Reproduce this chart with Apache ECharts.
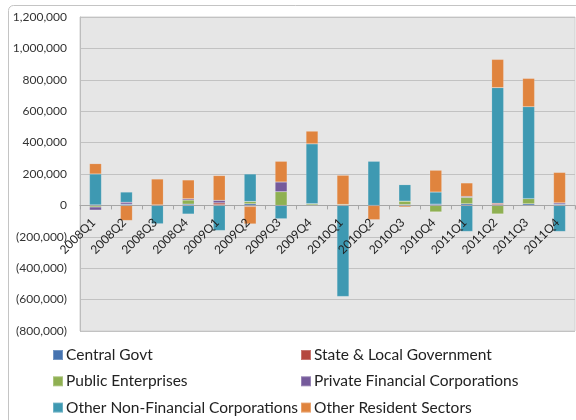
<!DOCTYPE html>
<html>
<head>
<meta charset="utf-8">
<script src="https://cdn.jsdelivr.net/npm/echarts@6/dist/echarts.min.js"></script>
<style>
  html, body { margin: 0; padding: 0; background: #ffffff; }
  #chart { width: 576px; height: 420px; }
</style>
</head>
<body>
<div id="chart"></div>
<script>
// Quarterly flows by institutional sector
const quarters = ['2008Q1','2008Q2','2008Q3','2008Q4','2009Q1','2009Q2','2009Q3','2009Q4',
                  '2010Q1','2010Q2','2010Q3','2010Q4','2011Q1','2011Q2','2011Q3','2011Q4'];

const centralGovt      = [3000, 8000, 0, 8000, 4000, 10000, 0, 0, 0, 0, 5000, 8000, 10000, 5000, 10000, 8000];
const stateLocalGovt   = [0, 0, 0, 0, 12000, -7000, 0, 3000, 0, 0, -3000, 0, 0, 8000, 0, 0];
const publicEnterprises = [-10000, 0, 3000, 26000, 0, 15000, 87000, 8000, 6000, 0, 22000, -42000, 41000, -55000, 33000, 0];
const privateFinancial = [-20000, 12000, 0, 8000, 16000, 0, 62000, 0, 0, 0, 0, 0, 6000, 0, -4000, 8000];
const otherNonFinancial = [197000, 65000, -117000, -55000, -160000, 175000, -85000, 381000, -580000, 281000, 105000, 77000, -166000, 737000, 585000, -166000];
const otherResident    = [66000, -96000, 165000, 120000, 158000, -111000, 132000, 81000, 186000, -91000, -8000, 139000, 86000, 180000, 181000, 194000];

const yTicks = { min: -800000, max: 1200000, step: 200000 };

const seriesNames = ['Central Govt', 'State & Local Government', 'Public Enterprises',
                     'Private Financial Corporations', 'Other Non-Financial Corporations', 'Other Resident Sectors'];
const seriesValues = [centralGovt, stateLocalGovt, publicEnterprises, privateFinancial, otherNonFinancial, otherResident];
const seriesColors = ['#4573b0', '#b5473f', '#8fb052', '#755a9b', '#3e99b2', '#e0843e'];

const fontFamily = 'Lato, "Open Sans", sans-serif';

// plot box
const gridTop = 17, gridBottom = 89, chartH = 420;
const plotH = chartH - gridTop - gridBottom;
// distance from the plot bottom up to the zero line, so the category axis sits on zero
const zeroOffset = plotH * (0 - yTicks.min) / (yTicks.max - yTicks.min);

function fmtAxis(v) {
  const s = Math.abs(v).toString().replace(/\B(?=(\d{3})+(?!\d))/g, ',');
  return v < 0 ? '(' + s + ')' : s;
}

const chart = echarts.init(document.getElementById('chart'), null, { renderer: 'canvas' });

const legendBase = {
  orient: 'vertical', top: 347, height: 100, padding: 0, itemGap: 10.3,
  itemWidth: 10, itemHeight: 10, icon: 'rect',
  textStyle: { fontFamily, fontSize: 15.5, color: '#222', padding: [0, 0, 0, -2] }
};

chart.setOption({
  backgroundColor: '#ffffff',
  animation: false,
  graphic: [{
    type: 'rect',
    shape: { x: 8.5, y: 5.5, width: 600, height: 500, r: 5 },
    style: { fill: 'none', stroke: '#c4c4c4', lineWidth: 1 },
    silent: true
  }],
  grid: {
    left: 80, right: 1, top: gridTop, bottom: gridBottom,
    show: true, backgroundColor: '#e6e6e6', borderColor: '#d0d0d0', borderWidth: 1
  },
  legend: [
    Object.assign({}, legendBase, { left: 52, data: [seriesNames[0], seriesNames[2], seriesNames[4]] }),
    Object.assign({}, legendBase, { left: 300, data: [seriesNames[1], seriesNames[3], seriesNames[5]] })
  ],
  xAxis: {
    type: 'category',
    data: quarters,
    position: 'bottom',
    offset: -zeroOffset,
    z: 10,
    axisLine: { onZero: false, lineStyle: { color: '#a6a6a6' } },
    axisTick: { show: true, length: 4, lineStyle: { color: '#a6a6a6' } },
    axisLabel: { rotate: 45, margin: 13, padding: [0, 3, 0, 0], fontFamily, fontSize: 12, color: '#222' }
  },
  yAxis: {
    type: 'value',
    min: yTicks.min, max: yTicks.max, interval: yTicks.step,
    axisLine: { show: true, lineStyle: { color: '#bdbdbd' } },
    axisTick: { show: false },
    axisLabel: { formatter: fmtAxis, margin: 13, fontFamily, fontSize: 12, color: '#333' },
    splitLine: { lineStyle: { color: '#c2c2c2', width: 1 } }
  },
  series: seriesNames.map((name, i) => ({
    name,
    type: 'bar',
    stack: 'sectors',
    barWidth: 12,
    data: seriesValues[i],
    itemStyle: { color: seriesColors[i], borderColor: 'rgba(255,255,255,0.25)', borderWidth: 0.5 }
  }))
});
</script>
</body>
</html>
